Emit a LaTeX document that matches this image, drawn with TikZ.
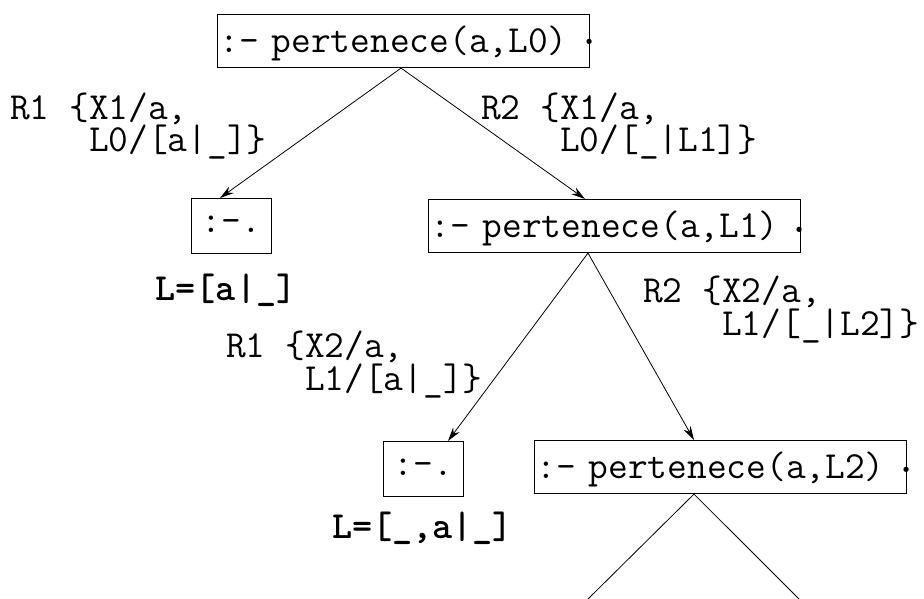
\documentclass[tikz,border=0pt]{standalone}
\usepackage{fontspec}
\usetikzlibrary{arrows.meta}
\begin{document}
\begin{tikzpicture}[x=1pt,y=-1pt,
  mono/.style={font=\ttfamily\fontsize{38.3}{30}\selectfont},
  goal/.style={mono, draw, line width=1.1pt, anchor=north west, inner xsep=2pt, inner ysep=0pt,
    text width=368pt, align=left, minimum height=53pt, text height=27pt, text depth=4pt},
  emptygoal/.style={mono, draw, line width=1.1pt, anchor=north west, inner sep=0pt,
    minimum width=80pt, minimum height=55pt, text height=17pt, text depth=4pt},
  lbl/.style={mono, anchor=base west, inner sep=0pt, align=left},
  ans/.style={font=\ttfamily\bfseries\fontsize{38.3}{30}\selectfont, anchor=base, inner sep=0pt},
  stop/.style={font=\ttfamily\bfseries\fontsize{38.3}{30}\selectfont, anchor=base west, inner sep=0pt},
  edge/.style={line width=0.8pt, -{Stealth[length=14pt,width=8pt]}},
  plainedge/.style={line width=0.8pt}
]
\useasboundingbox (0,0) rectangle (924,599);

% goals
\node[goal] (A) at (217,14) {:- pertenece(a,L0)};
\node[emptygoal] (B) at (191,198) {:-.};
\node[goal] (C) at (428,199) {:- pertenece(a,L1)};
\node[emptygoal] (D) at (383,441) {:-.};
\node[goal] (E) at (534,440) {:- pertenece(a,L2)};

% trailing periods
\node[stop] (Ap) at (579,45) {.};
\node[stop] (Cp) at (789,232) {.};
\node[stop] (Ep) at (896,472) {.};

% answers
\node[ans] (Bans) at (226,300) {L=[a|\_]};
\node[ans] (Dans) at (422.5,538) {L=[\_,a|\_]};

% edge labels (base anchor = last line)
\node[lbl] (l1) at (10,152) {R1 \{X1/a,\\\phantom{R1 \{}L0/[a|\_]\}};
\node[lbl] (l2) at (481,152) {R2 \{X1/a,\\\phantom{R2 \{}L0/[\_|L1]\}};
\node[lbl] (l3) at (226,390) {R1 \{X2/a,\\\phantom{R1 \{}L1/[a|\_]\}};
\node[lbl] (l4) at (643,335) {R2 \{X2/a,\\\phantom{R2 \{}L1/[\_|L2]\}};

% connectors
\draw[edge] ([xshift=-2.5pt]A.south) -- ([xshift=29pt]B.north west);
\draw[edge] ([xshift=-2.5pt]A.south) -- ([xshift=157pt]C.north west);
\draw[edge] ([xshift=160pt]C.south west) -- ([xshift=65pt]D.north west);
\draw[edge] ([xshift=160pt]C.south west) -- ([xshift=160pt]E.north west);

\coordinate (t1) at (588,599);
\coordinate (t2) at (799,599);
\draw[plainedge] (t1) -- ([xshift=160pt]E.south west) -- (t2);
\end{tikzpicture}
\end{document}
